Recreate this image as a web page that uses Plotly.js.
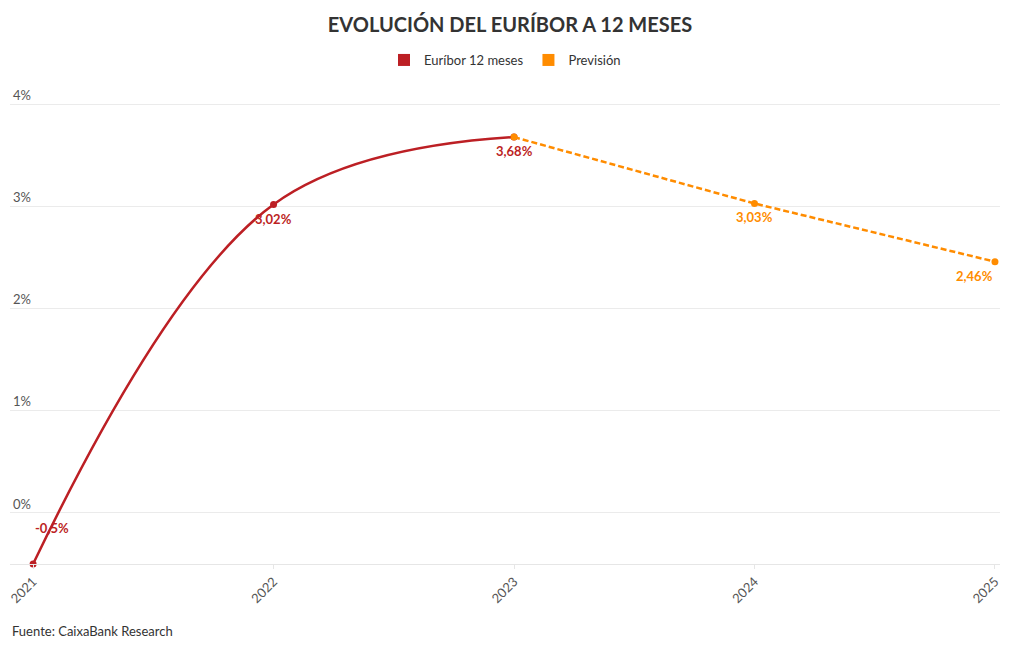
<!DOCTYPE html>
<html><head><meta charset="utf-8">
<script src="https://cdn.plot.ly/plotly-3.0.1.min.js"></script>
<style>body{margin:0;background:#fff}#c{width:1020px;height:650px}</style>
</head><body><div id="c"></div>
<script>
var histYears = [2021, 2022, 2023];
var histValues = [-0.5, 3.02, 3.68];
var histLabels = ['-0,5%', '3,02%', '3,68%'];
var fcYears = [2023, 2024, 2025];
var fcValues = [3.68, 3.03, 2.46];
var fcLabels = ['', '3,03%', '2,46%'];
var yTicks = [0, 1, 2, 3, 4];
var yTickText = ['0%', '1%', '2%', '3%', '4%'];
var xTicks = [2021, 2022, 2023, 2024, 2025];
var seriesNames = ['Euríbor 12 meses', 'Previsión'];
var RED = '#BC1F24', ORANGE = '#FF8C00';
var FONT = 'Source Sans Pro, Lato, Open Sans, sans-serif';

var traces = [
  {x: histYears, y: histValues, mode: 'lines+markers', line: {color: RED, width: 2.5, shape: 'spline', smoothing: 1.1},
   marker: {size: 7, color: RED}, showlegend: false, hoverinfo: 'skip', cliponaxis: false},
  {x: fcYears, y: fcValues, mode: 'lines+markers', line: {color: ORANGE, width: 2.5, dash: '6px,3px'},
   marker: {size: 7, color: ORANGE}, showlegend: false, hoverinfo: 'skip', cliponaxis: false},
  {x: [null], y: [null], mode: 'markers', name: seriesNames[0], marker: {symbol: 'square', size: 12, color: RED}},
  {x: [null], y: [null], mode: 'markers', name: seriesNames[1], marker: {symbol: 'square', size: 12, color: ORANGE}}
];

var annotations = [];
histLabels.forEach(function (t, i) {
  if (!t) return;
  var first = i === 0;
  annotations.push({x: histYears[i], y: histValues[i], text: '<b>' + t + '</b>', showarrow: false,
    xanchor: first ? 'left' : 'center', yanchor: first ? 'bottom' : 'top', yshift: first ? 26 : -4,
    font: {family: FONT, size: 13, color: RED}});
});
fcLabels.forEach(function (t, i) {
  if (!t) return;
  var last = i === fcLabels.length - 1;
  annotations.push({x: fcYears[i], y: fcValues[i], text: '<b>' + t + '</b>', showarrow: false,
    xanchor: last ? 'right' : 'center', yanchor: 'top', yshift: -4,
    font: {family: FONT, size: 13, color: ORANGE}});
});
annotations.push({xref: 'paper', yref: 'paper', x: 0, y: -0.1185, xanchor: 'left', yanchor: 'top',
  text: 'Fuente: CaixaBank Research', showarrow: false, font: {family: FONT, size: 13, color: '#333'}});

var layout = {
  width: 1020, height: 650,
  margin: {l: 10, r: 20, t: 84, b: 86},
  paper_bgcolor: '#fff', plot_bgcolor: '#fff',
  font: {family: FONT, color: '#555'},
  title: {text: '<b>EVOLUCIÓN DEL EURÍBOR A 12 MESES</b>', x: 0.5, xanchor: 'center', y: 0.962, yanchor: 'middle',
    font: {family: FONT, size: 20, color: '#333'}},
  showlegend: true,
  legend: {orientation: 'h', x: 0.5, xanchor: 'center', y: 1.05, yanchor: 'middle',
    font: {family: FONT, size: 13, color: '#333'}, itemwidth: 30, tracegroupgap: 0},
  xaxis: {range: [2020.904, 2025.021], tickvals: xTicks, ticktext: xTicks.map(String), tickangle: -45,
    showgrid: false, zeroline: false, showline: true, linecolor: '#e6e6e6', linewidth: 1,
    ticks: 'outside', ticklen: 4, tickcolor: '#e6e6e6', tickfont: {family: FONT, size: 13, color: '#555'}},
  yaxis: {range: [-0.5, 4.2], tickvals: yTicks, ticktext: yTickText, showgrid: true, gridcolor: '#ebebeb',
    zeroline: false, ticklabelposition: 'inside', ticklabelshift: -9,
    tickfont: {family: FONT, size: 13, color: '#555'}},
  annotations: annotations
};
Plotly.newPlot('c', traces, layout, {displayModeBar: false, staticPlot: true});
</script></body></html>
